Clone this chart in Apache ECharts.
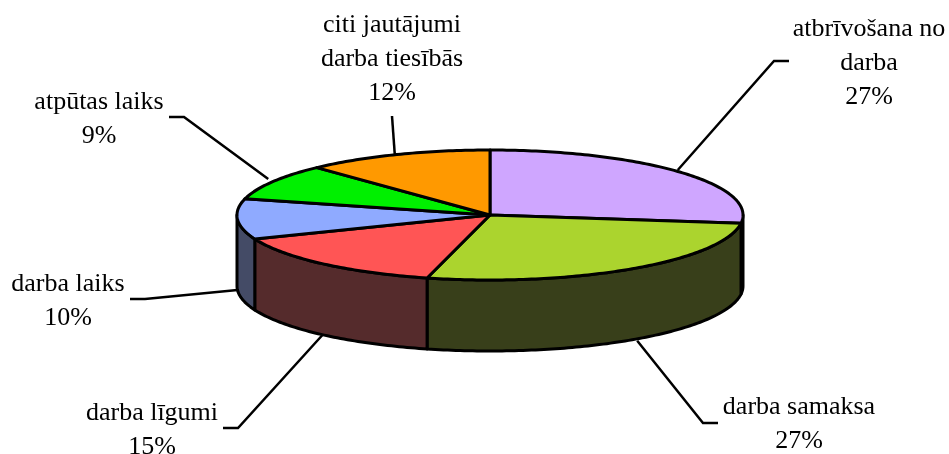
<!DOCTYPE html>
<html lang="lv">
<head>
    <meta charset="UTF-8">
    <title>Darba strīdi</title>
    <script src="https://cdn.jsdelivr.net/npm/echarts@6/dist/echarts.min.js"></script>
    <style>html,body{margin:0;padding:0;background:#fff}</style>
</head>
<body>
    <div id="main" style="width:949px;height:454px;"></div>
    <script type="text/javascript">
        // data, clockwise from 12 o'clock
        var categories = ['atbrīvošana no\ndarba', 'darba samaksa', 'darba līgumi', 'darba laiks', 'atpūtas laiks', 'citi jautājumi\ndarba tiesībās'];
        var values = [27, 27, 15, 10, 9, 12];
        var topColors = ['#cfa6ff', '#abd42e', '#ff5555', '#8faaff', '#00f000', '#ff9900'];
        var sideColors = ['#4a3a66', '#383f1a', '#552b2c', '#444b66', '#005a00', '#5a3600'];

        // the disc: centre and radii of the top ellipse, height of the wall
        var cx = 490, cy = 215, rx = 253, ry = 65, depth = 71;

        // label centre and elbow of the leader line for each slice, end = where the line stops at the text
        var labelPos = [[869, 63], [799, 424], [152, 430], [68, 301], [99, 119], [392, 59]];
        var elbows = [[774, 61], [703, 423], [238, 428], [145, 299], [184, 117], [392, 116]];
        var lineEnds = [[789, 61], [718, 423], [223, 428], [130, 299], [169, 117], [392, 116]];
        // small shift of where a leader meets the disc
        var startShift = [[-2, -2], [5, 1], [0, 0], [0, 0], [-4, -3], [-2, 1]];

        var total = values.reduce(function (a, b) { return a + b; }, 0);

        function startOf(i) {
            var s = 0;
            for (var k = 0; k < i; k++) s += values[k];
            return s / total * Math.PI * 2;
        }
        // angle is measured clockwise from the top of the ellipse
        function pt(a, dy) {
            return [cx + rx * Math.sin(a), cy - ry * Math.cos(a) + (dy || 0)];
        }
        function arc(a0, a1, dy) {
            var pts = [];
            var n = Math.max(2, Math.ceil((a1 - a0) * 60));
            for (var i = 0; i <= n; i++) pts.push(pt(a0 + (a1 - a0) * i / n, dy));
            return pts;
        }
        var edge = {stroke: '#000', lineWidth: 3, lineJoin: 'round'};

        function renderSide(params, api) {
            var a0 = startOf(params.dataIndex);
            var a1 = a0 + api.value(1) / total * Math.PI * 2;
            // only the front half of the wall can be seen
            var from = Math.max(a0, Math.PI / 2), to = Math.min(a1, Math.PI * 1.5);
            if (to <= from) return {type: 'group', children: []};
            var pts = arc(from, to, 0).concat(arc(from, to, depth).reverse());
            return {
                type: 'polygon',
                shape: {points: pts},
                style: Object.assign({fill: sideColors[params.dataIndex]}, edge)
            };
        }

        function renderTop(params, api) {
            var a0 = startOf(params.dataIndex);
            var a1 = a0 + api.value(1) / total * Math.PI * 2;
            return {
                type: 'polygon',
                shape: {points: [[cx, cy]].concat(arc(a0, a1, 0))},
                style: Object.assign({fill: topColors[params.dataIndex]}, edge)
            };
        }

        function renderLabel(params, api) {
            var i = params.dataIndex;
            var mid = startOf(i) + api.value(1) / total * Math.PI;
            // lower slices carry the leader from the bottom of the wall
            var start = pt(mid, Math.cos(mid) < 0 ? depth : 0);
            start = [start[0] + startShift[i][0], start[1] + startShift[i][1]];
            return {
                type: 'group',
                children: [{
                    type: 'polyline',
                    shape: {points: [start, elbows[i], lineEnds[i]]},
                    style: {fill: 'none', stroke: '#000', lineWidth: 2.5}
                }, {
                    type: 'text',
                    style: {
                        text: categories[i] + '\n' + api.value(1) + '%',
                        x: labelPos[i][0],
                        y: labelPos[i][1],
                        align: 'center',
                        verticalAlign: 'middle',
                        fontFamily: '"Liberation Serif", serif',
                        fontSize: 26,
                        lineHeight: 34,
                        fill: '#000'
                    }
                }]
            };
        }

        var rows = categories.map(function (c, i) { return [i, values[i]]; });

        var myChart = echarts.init(document.getElementById('main'));
        var option = {
            animation: false,
            backgroundColor: '#fff',
            series: [
                {type: 'custom', coordinateSystem: 'none', z: 1, renderItem: renderLabel, data: rows, silent: true},
                {type: 'custom', coordinateSystem: 'none', z: 2, renderItem: renderSide, data: rows, silent: true},
                {type: 'custom', coordinateSystem: 'none', z: 3, renderItem: renderTop, data: rows, silent: true}
            ]
        };
        myChart.setOption(option);
    </script>
</body>
</html>
